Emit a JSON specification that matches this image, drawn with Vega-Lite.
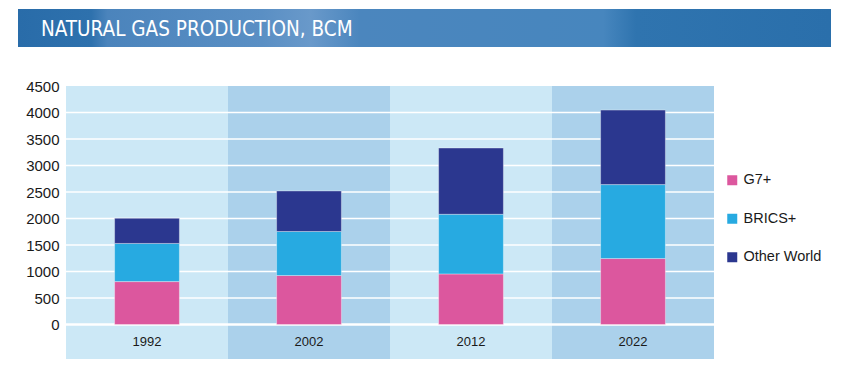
{
  "$schema": "https://vega.github.io/schema/vega-lite/v6.json",
  "background": "white",
  "padding": {"left": 16, "top": 9, "right": 0, "bottom": 0},
  "spacing": 32,
  "datasets": {
    "gas": [
      {"year": "1992", "group": "G7+", "value": 810},
      {"year": "1992", "group": "BRICS+", "value": 720},
      {"year": "1992", "group": "Other World", "value": 475},
      {"year": "2002", "group": "G7+", "value": 925},
      {"year": "2002", "group": "BRICS+", "value": 830},
      {"year": "2002", "group": "Other World", "value": 765},
      {"year": "2012", "group": "G7+", "value": 955},
      {"year": "2012", "group": "BRICS+", "value": 1125},
      {"year": "2012", "group": "Other World", "value": 1250},
      {"year": "2022", "group": "G7+", "value": 1245},
      {"year": "2022", "group": "BRICS+", "value": 1395},
      {"year": "2022", "group": "Other World", "value": 1405}
    ],
    "years": [{"year": "1992"}, {"year": "2002"}, {"year": "2012"}, {"year": "2022"}],
    "ticks": [{"v": 0}, {"v": 500}, {"v": 1000}, {"v": 1500}, {"v": 2000}, {"v": 2500}, {"v": 3000}, {"v": 3500}, {"v": 4000}]
  },
  "vconcat": [
    {
      "width": 813,
      "height": 38,
      "title": {
        "text": "NATURAL GAS PRODUCTION, BCM",
        "anchor": "start",
        "orient": "top",
        "offset": -47,
        "dx": 23,
        "font": "DejaVu Sans Condensed, DejaVu Sans",
        "fontSize": 20.5,
        "fontWeight": "normal",
        "color": "white",
        "baseline": "alphabetic"
      },
      "data": {"values": [{"k": 1}]},
      "mark": {
        "type": "rect",
        "color": {
          "gradient": "linear",
          "x1": 0, "x2": 1, "y1": 0, "y2": 0,
          "stops": [
            {"offset": 0, "color": "#296CA9"},
            {"offset": 0.09, "color": "#2E71AD"},
            {"offset": 0.11, "color": "#4B84BC"},
            {"offset": 0.3, "color": "#5A8FC4"},
            {"offset": 0.36, "color": "#6999CA"},
            {"offset": 0.42, "color": "#4B86BE"},
            {"offset": 0.72, "color": "#4786BE"},
            {"offset": 0.76, "color": "#2F74AF"},
            {"offset": 1, "color": "#2A6FAB"}
          ]
        }
      },
      "encoding": {}
    },
    {
      "width": 696,
      "height": 273,
      "layer": [
        {
          "data": {"name": "years"},
          "mark": {"type": "rect"},
          "encoding": {
            "x": {"field": "year", "type": "ordinal", "scale": {"paddingInner": 0, "paddingOuter": 0.1481481, "align": 1}, "axis": null},
            "color": {
              "condition": {"test": "datum.year == '2002' || datum.year == '2022'", "value": "#ABD1EB"},
              "value": "#CCE8F6"
            }
          }
        },
        {
          "data": {"name": "ticks"},
          "mark": {"type": "rule", "color": "white"},
          "encoding": {
            "y": {"field": "v", "type": "quantitative", "title": null},
            "strokeWidth": {"condition": {"test": "datum.v == 0", "value": 2.5}, "value": 1.5}
          }
        },
        {
          "data": {"name": "gas"},
          "transform": [
            {"calculate": "indexof(['G7+', 'BRICS+', 'Other World'], datum.group)", "as": "stackRank"}
          ],
          "mark": {"type": "bar", "width": {"band": 0.4}, "stroke": "#ffffff", "strokeOpacity": 0.35, "strokeWidth": 1},
          "encoding": {
            "x": {"field": "year", "type": "ordinal", "axis": null},
            "y": {
              "field": "value",
              "type": "quantitative",
              "stack": "zero",
              "title": null,
              "scale": {"domain": [-650, 4500], "nice": false, "zero": false},
              "axis": {
                "values": [0, 500, 1000, 1500, 2000, 2500, 3000, 3500, 4000, 4500],
                "tickCount": 10,
                "format": "d",
                "labelExpr": "datum.value < 0 ? '' : datum.label",
                "offset": -48,
                "zindex": 1
              }
            },
            "order": {"field": "stackRank", "type": "quantitative", "sort": "ascending"},
            "color": {
              "field": "group",
              "type": "nominal",
              "scale": {"domain": ["G7+", "BRICS+", "Other World"], "range": ["#DC579E", "#27AAE1", "#2B378F"]},
              "legend": {
                "title": null,
                "orient": "none",
                "legendX": 707,
                "legendY": 164,
                "padding": 0,
                "symbolType": "square",
                "symbolSize": 100,
                "symbolStrokeWidth": 0,
                "labelOffset": 4,
                "labelFont": "Liberation Sans",
                "labelFontSize": 14.5,
                "labelColor": "#1A1A1A",
                "rowPadding": 23.5
              }
            }
          }
        },
        {
          "data": {"name": "years"},
          "mark": {"type": "text", "font": "Liberation Sans", "fontSize": 13, "color": "#1A1A1A", "baseline": "middle"},
          "encoding": {
            "x": {"field": "year", "type": "ordinal", "axis": null},
            "y": {"datum": -328},
            "text": {"field": "year"}
          }
        }
      ]
    }
  ],
  "config": {
    "view": {"stroke": null},
    "axisY": {
      "grid": false,
      "ticks": false,
      "domain": false,
      "labelPadding": 7,
      "labelOverlap": false,
      "labelSeparation": 0,
      "labelFont": "Liberation Sans",
      "labelFontSize": 15,
      "labelColor": "#1A1A1A"
    }
  }
}
